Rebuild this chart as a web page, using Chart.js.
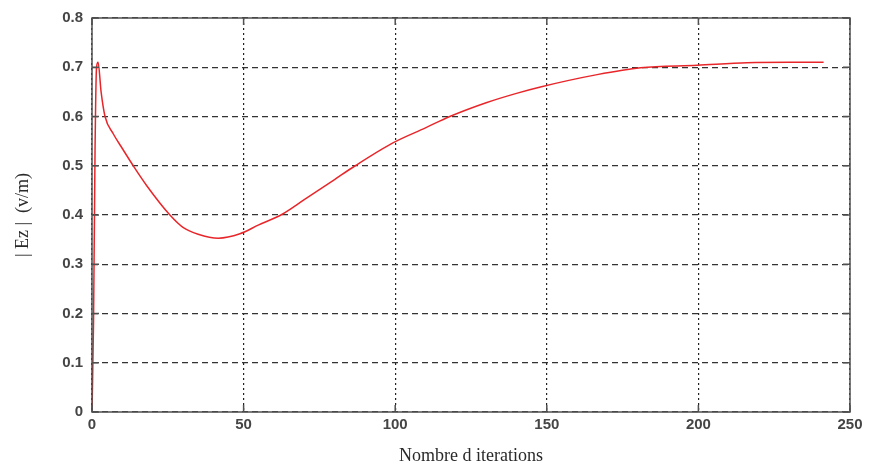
<!DOCTYPE html>
<html>
<head>
<meta charset="utf-8">
<script src="https://cdn.jsdelivr.net/npm/chart.js@4"></script>
<style>
  html, body { margin: 0; padding: 0; background: #fff; }
  #wrap { width: 872px; height: 471px; }
</style>
</head>
<body>
<div id="wrap"><canvas id="chart"></canvas></div>
<script>
// iteration number and |Ez| value
const iterations = [0, 0.5, 1, 1.5, 2, 3, 4.3, 7, 10, 13.6, 18, 25.7, 30, 35, 41.7, 48.8, 55, 62.6, 70, 80, 86.8, 99.4, 110, 118, 130, 140, 147.9, 166.6, 180.9, 199.6, 216, 230, 241.3];
const ezValues = [0, 0.18, 0.53, 0.70, 0.71, 0.65, 0.60, 0.565, 0.535, 0.50, 0.46, 0.40, 0.375, 0.361, 0.353, 0.362, 0.38, 0.401, 0.431, 0.472, 0.50, 0.547, 0.577, 0.60, 0.628, 0.647, 0.66, 0.685, 0.699, 0.704, 0.709, 0.71, 0.71];

const xTitle = "Nombre d iterations";
const yTitle = "| Ez |  (v/m)";

let points = [];
for (let i = 0; i < iterations.length; i++) {
    points.push({ x: iterations[i], y: ezValues[i] });
}

const tickFont = { family: "'Liberation Sans', Arial, sans-serif", size: 15, weight: "bold" };
const titleFont = { family: "'Liberation Serif', 'Times New Roman', serif", size: 18 };

// frame around the plot and small inward tick marks
const framePlugin = {
    id: "frame",
    afterDraw(chart) {
        const ctx = chart.ctx;
        const a = chart.chartArea;
        const xs = chart.scales.x;
        const ys = chart.scales.y;
        ctx.save();
        ctx.strokeStyle = "#505050";
        ctx.lineWidth = 1.5;
        ctx.setLineDash([]);
        ctx.strokeRect(a.left, a.top, a.right - a.left, a.bottom - a.top);
        ctx.beginPath();
        xs.ticks.forEach(t => {
            let px = xs.getPixelForValue(t.value);
            ctx.moveTo(px, a.bottom);
            ctx.lineTo(px, a.bottom - 7);
            ctx.moveTo(px, a.top);
            ctx.lineTo(px, a.top + 7);
        });
        ys.ticks.forEach(t => {
            let py = ys.getPixelForValue(t.value);
            ctx.moveTo(a.left, py);
            ctx.lineTo(a.left + 7, py);
            ctx.moveTo(a.right, py);
            ctx.lineTo(a.right - 7, py);
        });
        ctx.stroke();
        ctx.restore();
    }
};

new Chart(document.getElementById("chart"), {
    type: "line",
    data: {
        datasets: [{
            data: points,
            borderColor: "#e8262a",
            borderWidth: 1.5,
            pointRadius: 0,
            cubicInterpolationMode: "monotone",
            fill: false
        }]
    },
    options: {
        responsive: true,
        maintainAspectRatio: false,
        animation: false,
        layout: { padding: { left: 0, right: 22, top: 17, bottom: 0 } },
        plugins: { legend: { display: false }, tooltip: { enabled: false } },
        scales: {
            x: {
                type: "linear",
                min: 0,
                max: 250,
                ticks: { stepSize: 50, color: "#454545", font: tickFont, padding: 4 },
                grid: { color: "#222", lineWidth: 1.2, drawTicks: false },
                border: { display: false, dash: [2, 3] },
                title: { display: true, text: xTitle, color: "#2a2a2a", font: titleFont, padding: { top: 8 } },
                afterFit(scale) { scale.height = 59; }
            },
            y: {
                min: 0,
                max: 0.8,
                ticks: {
                    stepSize: 0.1,
                    color: "#454545",
                    font: tickFont,
                    padding: 9,
                    callback: v => Math.round(v * 10) / 10
                },
                grid: { color: "#333", lineWidth: 1.2, drawTicks: false },
                border: { display: false, dash: [6, 4] },
                title: { display: true, text: yTitle, color: "#2a2a2a", font: titleFont, padding: { top: 12, bottom: 0 } },
                afterFit(scale) { scale.width = 92; }
            }
        }
    },
    plugins: [framePlugin]
});
</script>
</body>
</html>
